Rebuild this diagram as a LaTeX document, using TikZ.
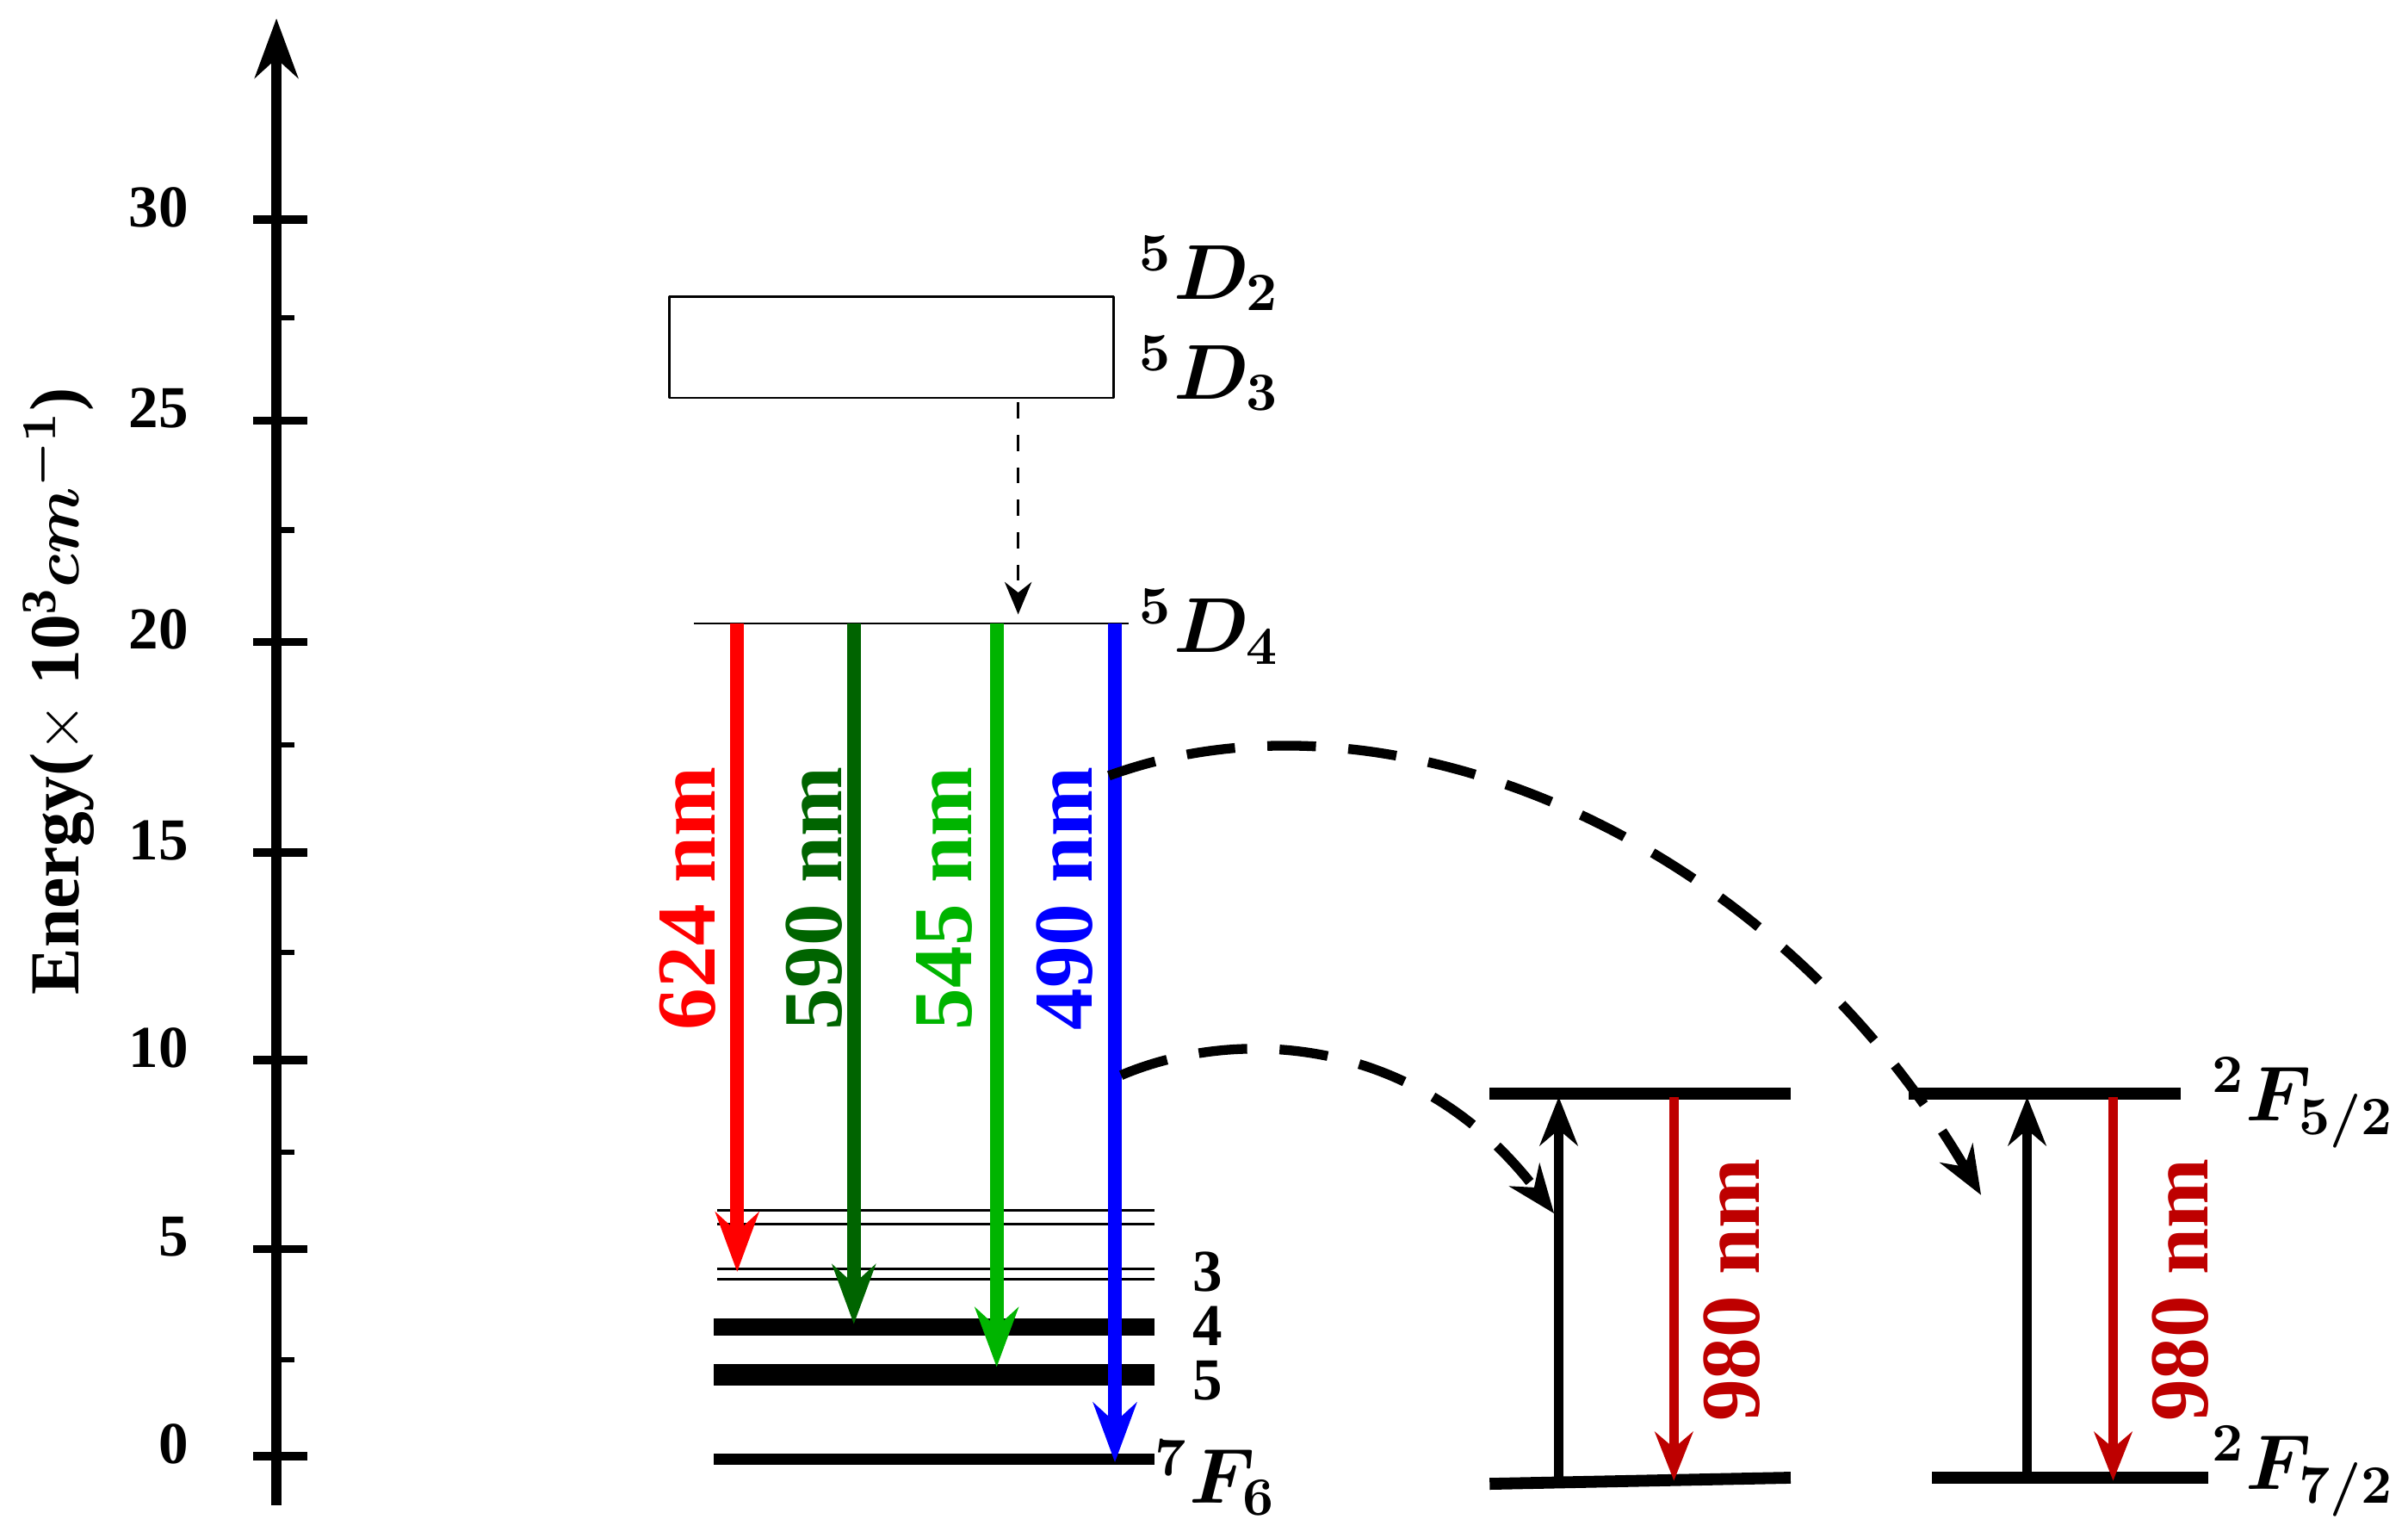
\documentclass[tikz,border=0pt]{standalone}
\usepackage{fontspec}
\setmainfont{Liberation Serif}
\usepackage{amsmath,bm}
\usetikzlibrary{arrows.meta}
\definecolor{dgreen}{RGB}{0,100,0}
\definecolor{lgreen}{RGB}{0,180,0}
\definecolor{dred}{RGB}{190,0,0}
\begin{document}
\begin{tikzpicture}[x=0.01cm, y=-0.01cm, font=\bfseries\fontsize{11}{13}\selectfont, line join=round, >={Stealth[length=11pt,width=8pt]}]
\tikzset{trans/.style={line width=2.6pt,->},
  lvl/.style={line width=2.2pt},
  thinlvl/.style={line width=0.5pt},
  wl/.style={rotate=90, font=\bfseries\fontsize{15.5}{17}\selectfont},
  term/.style={font=\fontsize{14}{16}\selectfont, anchor=west, inner sep=1pt},
  num/.style={font=\bfseries\fontsize{11}{12}\selectfont, anchor=west, inner sep=0pt}}
\useasboundingbox (0,0) rectangle (1568,1001);
% energy axis
\coordinate (ax0) at (180,980); \coordinate (ax1) at (180,12);
\draw[line width=1.8pt,->] (ax0)--(ax1);
\foreach \y/\l in {143/30,274/25,418/20,555/15,690/10,813/5,948/0}{
  \draw[line width=1.5pt] (165,\y)--(200,\y);
  \node[anchor=east] (t\l) at (135,\y-8) {\l};}
\foreach \y in {207,345,485,620,750,885} \draw[line width=1pt] (180,\y)--(192,\y);
\node[rotate=90, font=\bfseries\fontsize{13}{15}\selectfont] (elab) at (38,450) {Energy($\times$ $\mathbf{10^3}\bm{cm^{-1}}$)};
% Tb levels
\draw (436,193) rectangle (725,259);
\node[term] (d2) at (738,178) {$^{\bm 5}\bm{D_2}$};
\node[term] (d3) at (738,243) {$^{\bm 5}\bm{D_3}$};
\coordinate (s0) at (663,262); \coordinate (s1) at (663,400);
\draw[dashed,->,>={Stealth[length=6pt,width=5pt]}] (s0)--(s1);
\draw (452,406)--(735,406);
\node[term] (d4) at (738,408) {$^{\bm 5}\bm{D_4}$};
\foreach \y in {788,797,826,833} \draw[thinlvl] (467,\y)--(752,\y);
\draw[lvl, line width=3.2pt] (465,864)--(752,864);
\draw[lvl, line width=4pt] (465,895)--(752,895);
\draw[lvl] (465,950)--(752,950);
\node[num] (l3) at (776,828) {3};
\node[num] (l4) at (776,863) {4};
\node[num] (l5) at (776,899) {5};
\node[term] (f6) at (748,962) {$^{\bm 7}\bm{F_6}$};
% emissions
\foreach \x/\e/\c/\l/\lx in {480/828/red/624/448, 556/862/dgreen/590/530, 649/890/lgreen/545/615, 726/952/blue/490/693}{
  \coordinate (a\l) at (\x,406); \coordinate (b\l) at (\x,\e);
  \draw[trans,\c] (a\l)--(b\l);
  \node[wl,\c] (n\l) at (\lx,585) {\l\ nm};}
% Yb levels
\draw[lvl] (970,712)--(1166,712);
\draw[lvl] (970,966)--(1166,962);
\draw[lvl] (1243,712)--(1420,712);
\draw[lvl] (1258,962)--(1438,962);
\foreach \u/\d/\lx/\k in {1015/1090/1128/a, 1320/1376/1420/b}{
  \coordinate (u0\k) at (\u,965); \coordinate (u1\k) at (\u,714);
  \coordinate (d0\k) at (\d,714); \coordinate (d1\k) at (\d,964);
  \draw[line width=1.8pt,->,>={Stealth[length=9pt,width=7pt]}] (u0\k)--(u1\k);
  \draw[line width=1.8pt,dred,->,>={Stealth[length=9pt,width=7pt]}] (d0\k)--(d1\k);
  \node[wl,dred] (w\k) at (\lx,840) {980 nm};}
\node[term] (f52) at (1436,718) {$^{\bm 2}\bm{F_{5/2}}$};
\node[term] (f72) at (1436,958) {$^{\bm 2}\bm{F_{7/2}}$};
% energy transfer
\coordinate (et1) at (722,505); \coordinate (et2) at (1290,778);
\coordinate (et3) at (730,700); \coordinate (et4) at (1012,790);
\draw[line width=1.8pt,dash pattern=on 9pt off 6pt,->,>={Stealth[length=9pt,width=7pt]}] (et1) .. controls (900,440) and (1150,540) .. (et2);
\draw[line width=1.8pt,dash pattern=on 9pt off 6pt,->,>={Stealth[length=9pt,width=7pt]}] (et3) .. controls (800,670) and (920,670) .. (et4);
\end{tikzpicture}
\end{document}
